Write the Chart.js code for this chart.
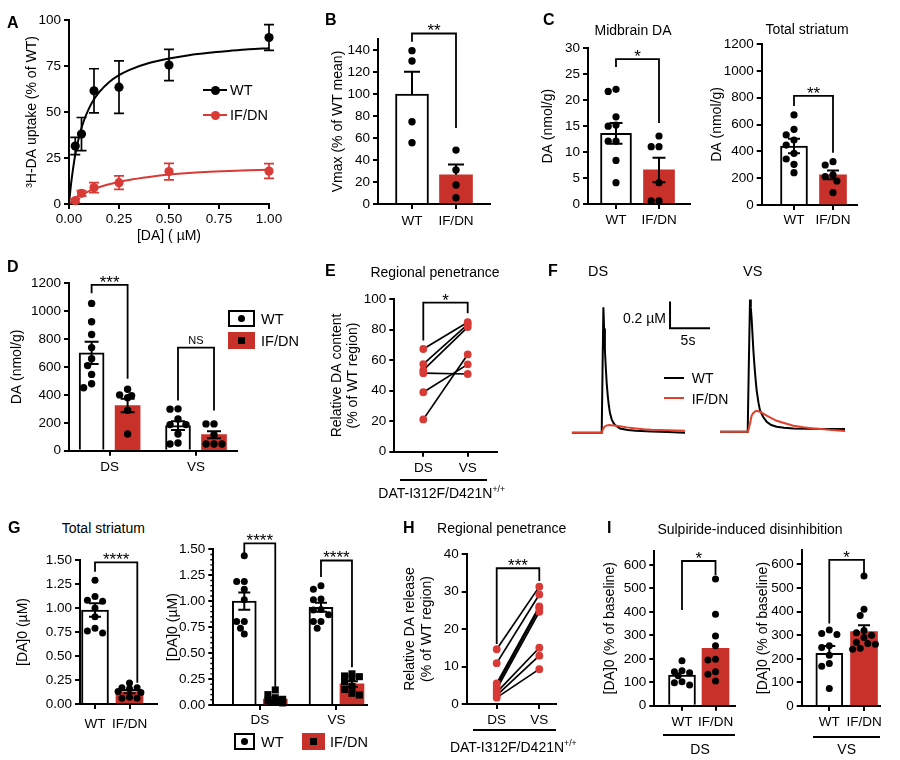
<!DOCTYPE html>
<html><head><meta charset="utf-8"><title>Figure</title>
<script src="https://cdn.jsdelivr.net/npm/chart.js@4.4.1/dist/chart.umd.min.js"></script>
<style>
html,body{margin:0;padding:0;background:#fff}
body{position:relative;width:900px;height:760px;overflow:hidden;font-family:'Liberation Sans',Arial,Helvetica,sans-serif;color:#000}
canvas{position:absolute}
.tx{position:absolute;white-space:nowrap;line-height:1}
.tx sup{font-size:0.62em;vertical-align:0.65em;line-height:0}
.hl{position:absolute;background:#000}
.bx{position:absolute;box-sizing:border-box}
</style></head><body>
<script>
// ================= DATA =================
const genotypes = ['WT', 'IF/DN'];
const regions = ['DS', 'VS'];

// A: 3H-DA uptake kinetics
const aConc = [0.03125, 0.0625, 0.125, 0.25, 0.5, 1];
const aWT = [31.5, 38, 61.5, 63.5, 75.5, 90.5];
const aWTsem = [4.7, 9, 12, 14.3, 8.5, 7];
const aIF = [1.8, 5.8, 8.9, 11.6, 17.6, 17.9];
const aIFsem = [1, 1.5, 2.7, 3.7, 4.5, 4];
const aFitX = [0, 0.01, 0.02, 0.03, 0.05, 0.075, 0.1, 0.125, 0.15, 0.2, 0.25, 0.3, 0.4, 0.5, 0.6, 0.7, 0.8, 0.9, 1];
const aFitWT = [0, 10.7, 19, 26, 36.4, 45.5, 52, 56.9, 60.7, 66.2, 70, 72.8, 76.6, 79.1, 80.9, 82.2, 83.2, 84.1, 84.7];
const aFitIF = [0, 0.96, 1.84, 2.65, 4.1, 5.66, 7.0, 8.1, 9.1, 10.7, 12.0, 13.1, 14.7, 16.0, 16.9, 17.5, 18.0, 18.3, 18.6];
const aXTicks = [0, 0.25, 0.5, 0.75, 1];
const aXLabels = ['0.00', '0.25', '0.50', '0.75', '1.00'];
const aYTicks = [0, 25, 50, 75, 100];

// B: Vmax
const bMean = [100, 26.5];
const bSem = [20.3, 9.5];
const bWT = [139.4, 130, 74.8, 55.7];
const bIF = [49, 31, 17.3, 5.7];
const bYTicks = [0, 20, 40, 60, 80, 100, 120, 140];

// C: midbrain DA / total striatum DA
const cMidMean = [13.6, 6.56];
const cMidSem = [2.0, 2.35];
const cMidWT = [22.1, 21.7, 16.8, 15.2, 15.0, 12.1, 12.1, 8.4, 4.1];
const cMidIF = [13.1, 11.05, 11.05, 4.1, 0.6, 0.6];
const cMidTicks = [0, 5, 10, 15, 20, 25, 30];
const cStrMean = [440, 224];
const cStrSem = [54, 33];
const cStrWT = [671, 564, 522, 484, 447, 385, 343, 303, 241];
const cStrIF = [323, 298, 224, 211, 179, 92];
const cStrTicks = [0, 200, 400, 600, 800, 1000, 1200];

// D: DA content by region
const dMean = [701, 324, 180, 115];
const dSem = [80, 48, 31, 25];
const dWT_DS = [1056, 924, 833, 739, 660, 610, 547, 480, 451];
const dIF_DS = [440, 400, 395, 380, 290, 120];
const dWT_VS = [300, 298, 228, 187, 187, 120, 55, 48];
const dIF_VS = [192, 192, 115, 48, 48, 48];
const dYTicks = [0, 200, 400, 600, 800, 1000, 1200];

// E: regional penetrance (content), paired
const eDS = [67.4, 57.5, 53.5, 51.5, 39, 21.2];
const eVS = [85, 83.5, 81.8, 51, 57.3, 63.8];
const eYTicks = [0, 20, 40, 60, 80, 100];

// F: representative traces (time s, [DA] uM)
const fDsT_WT = [0, 1, 2, 3, 3.75, 3.85, 3.96, 4.05, 4.15, 4.25, 4.375, 4.5, 4.65, 4.79, 5.0, 5.2, 5.42, 6.04, 7, 8, 10, 12, 14.16];
const fDsWT = [0, 0, 0, 0, 0, 0.45, 0.94, 0.78, 0.62, 0.5, 0.37, 0.28, 0.2, 0.145, 0.1, 0.075, 0.057, 0.032, 0.02, 0.015, 0.01, 0.005, 0];
const fDsT_IF = [0, 1, 2, 3, 3.75, 3.9, 4.1, 4.4, 4.7, 5.2, 5.8, 6.9, 8, 9, 10, 11, 12, 13, 14.16];
const fDsIF = [0, 0, 0, 0, 0, 0.025, 0.045, 0.055, 0.058, 0.055, 0.05, 0.04, 0.032, 0.026, 0.022, 0.02, 0.018, 0.016, 0.015];
const fVsT_WT = [0, 1, 2, 3, 3.46, 3.6, 3.75, 3.85, 3.95, 4.05, 4.17, 4.3, 4.45, 4.58, 4.8, 5.0, 5.4, 5.83, 6.4, 7.08, 8, 9.17, 11, 13, 15.62];
const fVsWT = [0, 0, 0, 0, 0, 0.5, 0.99, 0.93, 0.85, 0.74, 0.61, 0.5, 0.39, 0.31, 0.22, 0.16, 0.11, 0.075, 0.05, 0.037, 0.03, 0.025, 0.022, 0.02, 0.02];
const fVsT_IF = [0, 1, 2, 3, 3.5, 3.75, 3.95, 4.17, 4.5, 5.0, 5.83, 7.08, 8, 9.17, 10.4, 11.67, 13, 14, 15.62];
const fVsIF = [0, 0, 0, 0, 0, 0.062, 0.12, 0.14, 0.157, 0.15, 0.12, 0.082, 0.065, 0.045, 0.033, 0.025, 0.018, 0.012, 0.005];

// G: [DA]0
const g1Mean = [0.979, 0.128];
const g1Sem = [0.07, 0.017];
const g1WT = [1.29, 1.12, 1.08, 1.07, 1.0, 0.91, 0.79, 0.76, 0.74];
const g1IF = [0.22, 0.17, 0.17, 0.16, 0.13, 0.12, 0.07, 0.06, 0.06];
const g2Mean = [1.0, 0.058, 0.942, 0.203];
const g2Sem = [0.083, 0.014, 0.044, 0.026];
const g2WT_DS = [1.437, 1.19, 1.19, 1.116, 1.013, 0.804, 0.804, 0.74, 0.685];
const g2IF_DS = [0.145, 0.10, 0.07, 0.055, 0.045, 0.035, 0.03, 0.025, 0.02];
const g2WT_VS = [1.148, 1.116, 1.02, 1.013, 0.92, 0.916, 0.87, 0.804, 0.804, 0.74];
const g2IF_VS = [0.30, 0.28, 0.273, 0.26, 0.225, 0.18, 0.15, 0.113, 0.096];
const gYTicks = [0, 0.25, 0.5, 0.75, 1, 1.25, 1.5];
const gYLabels = ['0.00', '0.25', '0.50', '0.75', '1.00', '1.25', '1.50'];

// H: regional penetrance (release), paired
const hDS = [14.6, 10.9, 5.5, 4.8, 4.0, 3.1, 2.3, 1.7];
const hVS = [31.3, 29.2, 26.0, 25.5, 24.6, 15.0, 12.9, 9.3];
const hYTicks = [0, 10, 20, 30, 40];

// I: sulpiride-induced disinhibition
const i1Mean = [131, 245];
const i1WT = [192, 149, 145, 141, 128, 102, 98, 88];
const i1IF = [540, 390, 297, 256, 198, 195, 145, 134, 105];
const i2Mean = [223, 315];
const i2Sem = [31, 27];
const i2WT = [322, 307, 303, 255, 248, 215, 180, 168, 74];
const i2IF = [551, 410, 383, 320, 310, 300, 290, 270, 265, 262, 245, 240];
const iYTicks = [0, 100, 200, 300, 400, 500, 600];

// ================= STYLE / HELPERS =================
const FONT = "'Liberation Sans', Arial, Helvetica, sans-serif";
const RED_BAR = '#c8302a', RED_PT = '#d83a36', RED_LINE = '#e2402a';
const AXW = 2;
Chart.defaults.font.family = FONT;
Chart.defaults.font.size = 13.5;
Chart.defaults.color = '#000';

const EXTRAS = new Map();
const extrasPlugin = {
  id: 'extras',
  afterDatasetDraw(chart, args) {
    const ex = EXTRAS.get(chart.canvas);
    if (!ex || !ex.err || !chart.data.datasets[args.index].drawErr) return;
    const ctx = chart.ctx, xs = chart.scales.x, ys = chart.scales.y;
    ctx.save();
    ctx.lineWidth = ex.errW || 2;
    ex.err.forEach(e => {
      const px = xs.getPixelForValue(e.x), p0 = ys.getPixelForValue(e.y);
      const pu = ys.getPixelForValue(e.y + e.sem), pd = ys.getPixelForValue(e.y - e.sem);
      ctx.strokeStyle = e.color || '#000';
      ctx.beginPath();
      ctx.moveTo(px, e.up === false ? p0 : pu);
      ctx.lineTo(px, e.down === false ? p0 : pd);
      if (e.up !== false) { ctx.moveTo(px - e.cap, pu); ctx.lineTo(px + e.cap, pu); }
      if (e.down !== false) { ctx.moveTo(px - e.cap, pd); ctx.lineTo(px + e.cap, pd); }
      ctx.stroke();
    });
    ctx.restore();
  },
  afterDraw(chart) {
    const ex = EXTRAS.get(chart.canvas);
    if (!ex) return;
    const ctx = chart.ctx, xs = chart.scales.x, ys = chart.scales.y;
    ctx.save();
    (ex.brackets || []).forEach(b => {
      const x1 = xs.getPixelForValue(b.x1), x2 = xs.getPixelForValue(b.x2);
      const yl = ys.getPixelForValue(b.yl), yt = ys.getPixelForValue(b.yt), yr = ys.getPixelForValue(b.yr);
      ctx.strokeStyle = '#000'; ctx.lineWidth = 1.8; ctx.lineJoin = 'miter';
      ctx.beginPath(); ctx.moveTo(x1, yl); ctx.lineTo(x1, yt); ctx.lineTo(x2, yt); ctx.lineTo(x2, yr); ctx.stroke();
      const ns = b.text === 'NS';
      const size = ns ? 11 : 17;
      ctx.font = size + 'px ' + FONT; ctx.fillStyle = '#000';
      ctx.textAlign = 'center'; ctx.textBaseline = 'alphabetic';
      const base = ns ? yt - 7.3 + 0.36 * size : yt - 6.8 + 0.57 * size;
      ctx.fillText(b.text, (x1 + x2) / 2, base);
    });
    if (ex.minor) {
      const m = ex.minor, left = chart.chartArea.left;
      ctx.strokeStyle = '#000'; ctx.lineWidth = 1.4; ctx.beginPath();
      const n = Math.round((ys.max - ys.min) / m.step);
      for (let k = 0; k <= n; k++) {
        if (k % m.every === 0) continue;
        const y = ys.getPixelForValue(ys.min + k * m.step);
        ctx.moveTo(left - m.len, y); ctx.lineTo(left, y);
      }
      ctx.stroke();
    }
    if (ex.scaleBar) {
      const s = ex.scaleBar;
      const x0 = xs.getPixelForValue(s.t), x1 = xs.getPixelForValue(s.t + s.dt);
      const y0 = ys.getPixelForValue(s.v), y1 = ys.getPixelForValue(s.v + s.dv);
      ctx.strokeStyle = '#000'; ctx.lineWidth = 2; ctx.lineJoin = 'miter';
      ctx.beginPath(); ctx.moveTo(x0, y1); ctx.lineTo(x0, y0); ctx.lineTo(x1, y0); ctx.stroke();
    }
    ctx.restore();
  }
};
Chart.register(extrasPlugin);

function pts(xs, ys) { return xs.map((x, i) => ({x: x, y: ys[i]})); }

function make(box, area, cfg, extra) {
  const [cx, cy, cw, ch] = box, [L, T, R, B] = area;
  const c = document.createElement('canvas');
  c.width = cw; c.height = ch;
  c.style.left = cx + 'px'; c.style.top = cy + 'px';
  c.style.width = cw + 'px'; c.style.height = ch + 'px';
  document.body.appendChild(c);
  const sc = cfg.options.scales;
  const hidden = sc.x.display === false;
  if (!hidden) {
    sc.x.afterFit = s => { s.height = cy + ch - B; };
    sc.y.afterFit = s => { s.width = L - cx; };
  }
  cfg.options.layout = {padding: {left: hidden ? L - cx : 0, top: T - cy, right: cx + cw - R, bottom: hidden ? cy + ch - B : 0}};
  Object.assign(cfg.options, {responsive: false, maintainAspectRatio: false, devicePixelRatio: 1, animation: false, events: []});
  cfg.options.plugins = {legend: {display: false}, tooltip: {enabled: false}, title: {display: false}};
  if (extra) EXTRAS.set(c, extra);
  return new Chart(c, cfg);
}

function yScale(o) {
  return {
    type: 'linear', position: 'left', min: o.min, max: o.max,
    afterBuildTicks: s => { s.ticks = o.ticks.map(v => ({value: v})); },
    border: {display: true, color: '#000', width: AXW},
    grid: {display: true, drawOnChartArea: false, drawTicks: true, tickLength: 5, color: '#000', lineWidth: AXW},
    ticks: {padding: 3, autoSkip: false, font: {size: 13.5}, color: '#000',
      callback: (v, i) => (o.labels ? o.labels[i] : String(o.ticks[i]))},
    title: o.title ? {display: true, text: o.title, color: '#000', font: {size: 14}, padding: {top: o.tpad, bottom: 0}} : {display: false}
  };
}
function xScale(o) {
  return {
    type: 'linear', position: 'bottom', min: o.min, max: o.max, offset: false,
    afterBuildTicks: s => { s.ticks = o.ticks.map(v => ({value: v})); },
    border: {display: true, color: '#000', width: AXW},
    grid: {display: true, offset: false, drawOnChartArea: false, drawTicks: true, tickLength: 5, color: '#000', lineWidth: AXW},
    ticks: {padding: o.pad === undefined ? 3 : o.pad, maxRotation: 0, minRotation: 0, autoSkip: false, font: {size: 13.5}, color: '#000',
      callback: (v, i) => o.labels[i]},
    title: o.title ? {display: true, text: o.title, color: '#000', font: {size: 14}, padding: {top: 0, bottom: o.tpad}} : {display: false}
  };
}

// beeswarm layout limited to a maximum horizontal offset (pixels)
function swarm(vals, center, ux, uy, d, maxOff) {
  const order = vals.map((v, i) => i).sort((a, b) => vals[b] - vals[a]);
  const placed = [], out = new Array(vals.length);
  const cands = [0];
  for (let k = 1; k * d * 0.5 <= maxOff + 0.01; k++) { cands.push(-k * d * 0.5, k * d * 0.5); }
  for (const i of order) {
    const py = vals[i] * uy;
    let best = null, bestScore = -1;
    for (const off of cands) {
      const md = placed.length ? Math.min(...placed.map(p => Math.hypot(p.x - off, p.y - py))) : Infinity;
      if (md >= d * 0.9) { best = off; break; }
      if (md > bestScore + 0.5) { bestScore = md; best = off; }
    }
    placed.push({x: best, y: py});
    out[i] = center + best / ux;
  }
  return out;
}

function barPanel(p) {
  const [L, T, R, B] = p.area;
  const ux = (R - L) / (p.xmax - p.xmin), uy = (B - T) / (p.ymax - p.ymin);
  const ds = [{
    type: 'bar', data: p.bars.map(b => ({x: b.x, y: b.mean})),
    backgroundColor: p.bars.map(b => b.red ? RED_BAR : '#fff'),
    borderColor: p.bars.map(b => b.red ? RED_BAR : '#000'),
    borderWidth: p.bars.map(b => b.red ? 0 : 2),
    borderSkipped: 'start', barThickness: p.barW, order: 3, drawErr: true
  }];
  p.bars.forEach(b => {
    const r = b.square ? 5 : p.ptR;
    const dd = b.square ? 7.4 : 2 * p.ptR + 0.6;
    const maxOff = p.barW / 2 - (b.square ? 2.5 : 1.5);
    const xs = swarm(b.pts, b.x, ux, uy, dd, maxOff);
    ds.push({type: 'scatter', data: b.pts.map((v, i) => ({x: xs[i], y: v})), pointRadius: r, pointHoverRadius: r,
      pointStyle: b.square ? 'rect' : 'circle', pointBackgroundColor: '#000', pointBorderWidth: 0, order: 1, clip: false});
  });
  const err = p.bars.filter(b => b.sem != null).map(b => ({x: b.x, y: b.mean, sem: b.sem, up: true, down: b.down !== false, cap: p.cap}));
  return make(p.box, p.area, {
    type: 'bar', data: {datasets: ds},
    options: {scales: {
      x: xScale({min: p.xmin, max: p.xmax, ticks: p.xTicks, labels: p.xLabels, pad: p.xPad}),
      y: yScale({min: p.ymin, max: p.ymax, ticks: p.yTicks, labels: p.yLabels, title: p.yTitle, tpad: p.tpad})
    }}
  }, {err: err, brackets: p.brackets, minor: p.minor});
}

function pairPanel(p) {
  const ds = p.a.map((v, i) => ({type: 'line', data: [{x: 1, y: v}, {x: 2, y: p.b[i]}], borderColor: '#000', borderWidth: 1.7, pointRadius: 0, order: 2, clip: false}));
  ds.unshift({type: 'scatter', data: p.a.map(v => ({x: 1, y: v})).concat(p.b.map(v => ({x: 2, y: v}))),
    pointRadius: 3.9, pointHoverRadius: 3.9, pointBackgroundColor: RED_PT, pointBorderWidth: 0, order: 1, clip: false});
  return make(p.box, p.area, {
    type: 'scatter', data: {datasets: ds},
    options: {scales: {
      x: xScale({min: p.xmin, max: p.xmax, ticks: [1, 2], labels: regions, pad: 3}),
      y: yScale({min: 0, max: p.ymax, ticks: p.yTicks, title: p.yTitle, tpad: p.tpad})
    }}
  }, {brackets: p.brackets});
}

function T(html, x, y, o) {
  o = o || {};
  const d = document.createElement('div');
  d.className = 'tx';
  d.innerHTML = html;
  d.style.left = x + 'px'; d.style.top = y + 'px';
  d.style.fontSize = (o.size || 14) + 'px';
  if (o.bold) d.style.fontWeight = 'bold';
  const a = o.anchor || 'c';
  d.style.transform = 'translate(' + (a === 'l' ? '0' : a === 'r' ? '-100%' : '-50%') + ',-50%)';
  document.body.appendChild(d);
}
function HL(x1, x2, y, w, color) {
  const d = document.createElement('div');
  d.className = 'hl';
  d.style.left = x1 + 'px'; d.style.width = (x2 - x1) + 'px';
  d.style.top = (y - (w || 2) / 2) + 'px'; d.style.height = (w || 2) + 'px';
  if (color) d.style.background = color;
  document.body.appendChild(d);
}
function BOX(x, y, w, h, css) {
  const d = document.createElement('div');
  d.className = 'bx';
  d.style.left = x + 'px'; d.style.top = y + 'px'; d.style.width = w + 'px'; d.style.height = h + 'px';
  Object.assign(d.style, css);
  document.body.appendChild(d);
}

// ================= PANEL A =================
make([0, 5, 290, 245], [69, 20, 269, 204], {
  type: 'scatter',
  data: {datasets: [
    {type: 'scatter', data: pts(aConc, aWT), pointRadius: 4.6, pointHoverRadius: 4.6, pointBackgroundColor: '#000', pointBorderWidth: 0, order: 1, clip: false},
    {type: 'scatter', data: pts(aConc, aIF), pointRadius: 4.6, pointHoverRadius: 4.6, pointBackgroundColor: RED_PT, pointBorderWidth: 0, order: 1, clip: false},
    {type: 'line', data: pts(aFitX, aFitWT), borderColor: '#000', borderWidth: 2, pointRadius: 0, cubicInterpolationMode: 'monotone', order: 2, drawErr: true},
    {type: 'line', data: pts(aFitX, aFitIF), borderColor: RED_PT, borderWidth: 2, pointRadius: 0, cubicInterpolationMode: 'monotone', order: 2}
  ]},
  options: {scales: {
    x: xScale({min: 0, max: 1, ticks: aXTicks, labels: aXLabels, pad: 2, title: '[DA] ( \u00b5M)', tpad: 5}),
    y: yScale({min: 0, max: 100, ticks: aYTicks, title: '\u00b3H-DA uptake (% of WT)', tpad: 23.6})
  }}
}, {
  errW: 1.7,
  err: aConc.map((x, i) => ({x: x, y: aWT[i], sem: aWTsem[i], cap: 5, color: '#000'}))
    .concat(aConc.map((x, i) => ({x: x, y: aIF[i], sem: aIFsem[i], cap: 5, color: RED_PT})))
});
T('A', 7, 23, {bold: true, size: 16, anchor: 'l'});
HL(203, 227, 90, 2);
BOX(210.5, 85.5, 9, 9, {background: '#000', borderRadius: '50%'});
T('WT', 230, 90, {anchor: 'l', size: 14.5});
HL(203, 227, 115, 2, RED_PT);
BOX(210.5, 110.5, 9, 9, {background: RED_PT, borderRadius: '50%'});
T('IF/DN', 230, 115, {anchor: 'l', size: 14.5});

// ================= PANEL B =================
barPanel({
  box: [300, 15, 200, 235], area: [378, 39, 490, 204],
  xmin: 0.2273, xmax: 2.7727, xTicks: [1, 2], xLabels: genotypes, xPad: 4,
  ymin: 0, ymax: 150, yTicks: bYTicks, yTitle: 'Vmax (% of WT mean)', tpad: 29.6,
  barW: 33, cap: 8, ptR: 3.7,
  bars: [
    {x: 1, mean: bMean[0], sem: bSem[0], down: false, pts: bWT},
    {x: 2, mean: bMean[1], sem: bSem[1], down: false, red: true, pts: bIF}
  ],
  brackets: [{x1: 1, x2: 2, yl: 147.5, yt: 155, yr: 69, text: '**'}]
});
T('B', 325, 20, {bold: true, size: 16, anchor: 'l'});

// ================= PANEL C =================
barPanel({
  box: [530, 25, 180, 225], area: [588, 48.3, 690, 204],
  xmin: 0.3488, xmax: 2.7209, xTicks: [1, 2], xLabels: genotypes, xPad: 3,
  ymin: 0, ymax: 30, yTicks: cMidTicks, yTitle: 'DA (nmol/g)', tpad: 9.6,
  barW: 31, cap: 6.5, ptR: 3.6,
  bars: [
    {x: 1, mean: cMidMean[0], sem: cMidSem[0], pts: cMidWT},
    {x: 2, mean: cMidMean[1], sem: cMidSem[1], red: true, pts: cMidIF}
  ],
  brackets: [{x1: 1, x2: 2, yl: 26.4, yt: 27.9, yr: 15.6, text: '*'}]
});
barPanel({
  box: [700, 25, 200, 225], area: [761.7, 44, 856.7, 205],
  xmin: 0.1718, xmax: 2.6077, xTicks: [1, 2], xLabels: genotypes, xPad: 2,
  ymin: 0, ymax: 1200, yTicks: cStrTicks, yTitle: 'DA (nmol/g)', tpad: 8.3,
  barW: 27, cap: 6, ptR: 3.6,
  bars: [
    {x: 1, mean: cStrMean[0], sem: cStrSem[0], pts: cStrWT},
    {x: 2, mean: cStrMean[1], sem: cStrSem[1], red: true, pts: cStrIF}
  ],
  brackets: [{x1: 1, x2: 2, yl: 738, yt: 814, yr: 390, text: '**'}]
});
T('C', 543, 20, {bold: true, size: 16, anchor: 'l'});
T('Midbrain DA', 633, 30);
T('Total striatum', 807, 29);

// ================= PANEL D =================
const DOFF = 0.2083;
barPanel({
  box: [0, 265, 290, 235], area: [69, 283.3, 236.7, 450.7],
  xmin: 0.530, xmax: 2.471, xTicks: [1, 2], xLabels: regions, xPad: 3,
  ymin: 0, ymax: 1200, yTicks: dYTicks, yTitle: 'DA (nmol/g)', tpad: 8.3,
  barW: 25, cap: 7, ptR: 3.7,
  bars: [
    {x: 1 - DOFF, mean: dMean[0], sem: dSem[0], pts: dWT_DS},
    {x: 1 + DOFF, mean: dMean[1], sem: dSem[1], red: true, pts: dIF_DS},
    {x: 2 - DOFF, mean: dMean[2], sem: dSem[2], pts: dWT_VS},
    {x: 2 + DOFF, mean: dMean[3], sem: dSem[3], red: true, pts: dIF_VS}
  ],
  brackets: [
    {x1: 1 - DOFF, x2: 1 + DOFF, yl: 1128, yt: 1188, yr: 516, text: '***'},
    {x1: 2 - DOFF, x2: 2 + DOFF, yl: 360, yt: 739, yr: 288, text: 'NS'}
  ]
});
T('D', 7, 267, {bold: true, size: 16, anchor: 'l'});
BOX(228, 310, 27, 17, {background: '#fff', border: '2px solid #000'});
BOX(238, 315, 7, 7, {background: '#000', borderRadius: '50%'});
T('WT', 261, 318.5, {anchor: 'l', size: 14.5});
BOX(228, 332, 27, 17, {background: RED_BAR});
BOX(238, 337, 7, 7, {background: '#000'});
T('IF/DN', 261, 340.5, {anchor: 'l', size: 14.5});

// ================= PANEL E =================
pairPanel({
  box: [320, 285, 200, 215], area: [394.3, 299.3, 496.7, 451.7],
  xmin: 0.3468, xmax: 2.6532, ymax: 100, yTicks: eYTicks,
  yTitle: ['Relative DA content', '(% of WT region)'], tpad: 8.3,
  a: eDS, b: eVS,
  brackets: [{x1: 1, x2: 2, yl: 73, yt: 97.8, yr: 90.8, text: '*'}]
});
T('E', 325, 271, {bold: true, size: 16, anchor: 'l'});
T('Regional penetrance', 435, 272);
HL(400, 486.7, 480, 2);
T('DAT-I312F/D421N<sup>+/+</sup>', 441.7, 493);

// ================= PANEL F =================
make([560, 285, 160, 165], [571.7, 299.2, 685, 439.4], {
  type: 'scatter',
  data: {datasets: [
    {type: 'line', data: pts(fDsT_IF, fDsIF), borderColor: RED_LINE, borderWidth: 2, pointRadius: 0, order: 1},
    {type: 'line', data: pts(fDsT_WT, fDsWT), borderColor: '#000', borderWidth: 2, pointRadius: 0, order: 2}
  ]},
  options: {scales: {x: {type: 'linear', display: false, min: 0, max: 14.16}, y: {type: 'linear', display: false, min: -0.05, max: 1}}}
}, {scaleBar: {t: 12.29, v: 0.782, dv: 0.2, dt: 5}});
make([705, 285, 160, 165], [720, 298.2, 845, 438.4], {
  type: 'scatter',
  data: {datasets: [
    {type: 'line', data: pts(fVsT_IF, fVsIF), borderColor: RED_LINE, borderWidth: 2, pointRadius: 0, order: 1},
    {type: 'line', data: pts(fVsT_WT, fVsWT), borderColor: '#000', borderWidth: 2, pointRadius: 0, order: 2}
  ]},
  options: {scales: {x: {type: 'linear', display: false, min: 0, max: 15.62}, y: {type: 'linear', display: false, min: -0.05, max: 1}}}
});
T('F', 548, 271, {bold: true, size: 16, anchor: 'l'});
T('DS', 598, 271, {size: 14.5});
T('VS', 752.7, 271, {size: 14.5});
T('0.2 \u00b5M', 666, 318, {anchor: 'r'});
T('5s', 688, 340);
HL(664, 684, 377.7, 2);
T('WT', 691.7, 378, {anchor: 'l'});
HL(664, 684, 398, 2, RED_LINE);
T('IF/DN', 691.7, 398.5, {anchor: 'l'});

// ================= PANEL G =================
barPanel({
  box: [5, 545, 165, 215], area: [80, 560, 156.7, 704],
  xmin: 0.5652, xmax: 2.788, xTicks: [1, 2], xLabels: genotypes, xPad: 7,
  ymin: 0, ymax: 1.5, yTicks: gYTicks, yLabels: gYLabels, yTitle: '[DA]0 (\u00b5M)', tpad: 9.9,
  barW: 27, cap: 6, ptR: 3.5,
  bars: [
    {x: 1, mean: g1Mean[0], sem: g1Sem[0], pts: g1WT},
    {x: 2, mean: g1Mean[1], sem: g1Sem[1], red: true, pts: g1IF}
  ],
  brackets: [{x1: 1, x2: 2.226, yl: 1.378, yt: 1.476, yr: 0.222, text: '****'}]
});
const GOFF = 0.202;
barPanel({
  box: [160, 525, 220, 210], area: [213.3, 549.3, 366.7, 705],
  xmin: 0.394, xmax: 2.394, xTicks: [1, 2], xLabels: regions, xPad: 2,
  ymin: 0, ymax: 1.5, yTicks: gYTicks, yLabels: gYLabels, yTitle: '[DA]0 (\u00b5M)', tpad: 4.9,
  barW: 24, cap: 6, ptR: 3.5,
  bars: [
    {x: 1 - GOFF, mean: g2Mean[0], sem: g2Sem[0], pts: g2WT_DS},
    {x: 1 + GOFF, mean: g2Mean[1], sem: g2Sem[1], red: true, square: true, pts: g2IF_DS},
    {x: 2 - GOFF, mean: g2Mean[2], sem: g2Sem[2], pts: g2WT_VS},
    {x: 2 + GOFF, mean: g2Mean[3], sem: g2Sem[3], red: true, square: true, pts: g2IF_VS}
  ],
  brackets: [
    {x1: 1 - GOFF, x2: 1 + GOFF, yl: 1.463, yt: 1.558, yr: 0.177, text: '****'},
    {x1: 2 - GOFF, x2: 2 + GOFF, yl: 1.232, yt: 1.392, yr: 0.364, text: '****'}
  ],
  minor: {step: 0.05, every: 5, len: 3}
});
T('G', 8, 528, {bold: true, size: 16, anchor: 'l'});
T('Total striatum', 103.3, 528.3);
BOX(234.3, 733.3, 21, 17, {background: '#fff', border: '2px solid #000'});
BOX(241.3, 738.3, 7, 7, {background: '#000', borderRadius: '50%'});
T('WT', 261, 742, {anchor: 'l', size: 14.5});
BOX(301.7, 733.3, 23.3, 17, {background: RED_BAR});
BOX(309.8, 738.3, 7, 7, {background: '#000'});
T('IF/DN', 330, 742, {anchor: 'l', size: 14.5});

// ================= PANEL H =================
pairPanel({
  box: [395, 540, 175, 200], area: [466.7, 554, 556, 704],
  xmin: 0.2958, xmax: 2.392, ymax: 40, yTicks: hYTicks,
  yTitle: ['Relative DA release', '(% of WT region)'], tpad: 6.6,
  a: hDS, b: hVS,
  brackets: [{x1: 1, x2: 2, yl: 16, yt: 36.2, yr: 32.8, text: '***'}]
});
T('H', 403, 528, {bold: true, size: 16, anchor: 'l'});
T('Regional penetrance', 501.7, 528.3);
HL(473, 556, 730, 2);
T('DAT-I312F/D421N<sup>+/+</sup>', 513.3, 747);

// ================= PANEL I =================
barPanel({
  box: [595, 535, 160, 200], area: [654.3, 550.9, 735, 705.7],
  xmin: 0.1731, xmax: 2.582, xTicks: [1, 2], xLabels: genotypes, xPad: 3,
  ymin: 0, ymax: 660, yTicks: iYTicks, yTitle: '[DA]0 (% of baseline)', tpad: 6.6,
  barW: 27, cap: 6, ptR: 3.5,
  bars: [
    {x: 1, mean: i1Mean[0], pts: i1WT},
    {x: 2, mean: i1Mean[1], red: true, pts: i1IF}
  ],
  brackets: [{x1: 1, x2: 2, yl: 408, yt: 617, yr: 557, text: '*'}]
});
barPanel({
  box: [750, 535, 145, 200], area: [801.7, 550.2, 880, 706],
  xmin: 0.2046, xmax: 2.461, xTicks: [1, 2], xLabels: genotypes, xPad: 3,
  ymin: 0, ymax: 660, yTicks: iYTicks, yTitle: '[DA]0 (% of baseline)', tpad: 4.9,
  barW: 27, cap: 6, ptR: 3.5,
  bars: [
    {x: 1, mean: i2Mean[0], sem: i2Sem[0], down: false, pts: i2WT},
    {x: 2, mean: i2Mean[1], sem: i2Sem[1], down: false, red: true, pts: i2IF}
  ],
  brackets: [{x1: 1, x2: 2, yl: 350, yt: 619, yr: 555, text: '*'}]
});
T('I', 607, 528, {bold: true, size: 16, anchor: 'l'});
T('Sulpiride-induced disinhibition', 750, 529.3);
HL(663.3, 735, 735, 2);
T('DS', 700, 748.5);
HL(813, 880, 736.7, 2);
T('VS', 846.7, 748.5);
</script>
</body></html>
